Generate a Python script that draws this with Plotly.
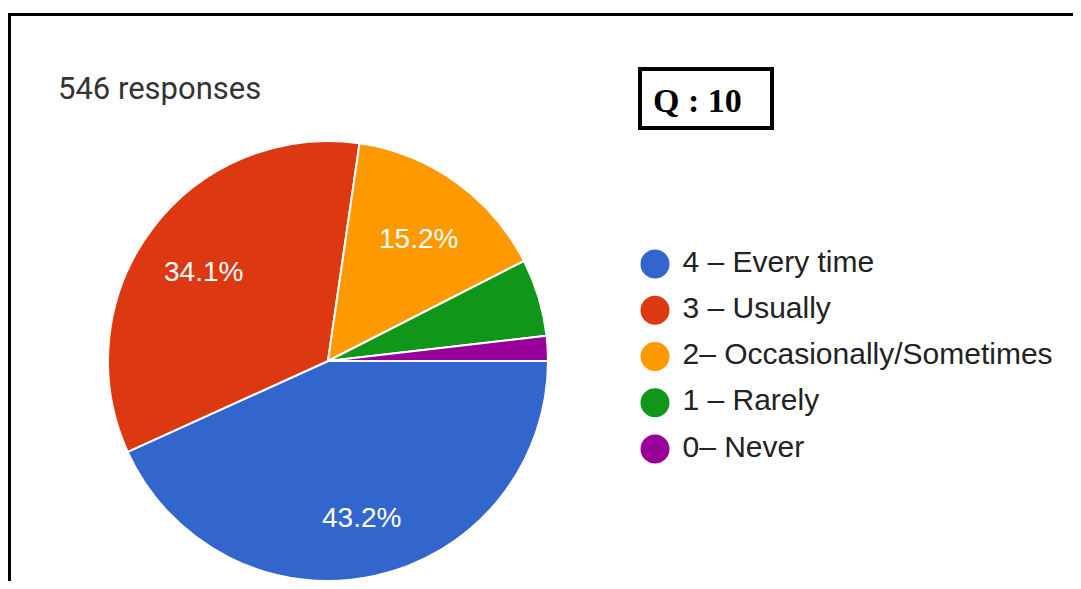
import numpy as np
import plotly.graph_objects as go

categories = ["4 – Every time", "3 – Usually", "2– Occasionally/Sometimes", "1 – Rarely", "0– Never"]
counts = [236, 186, 83, 31, 10]
colors = ["#3366CC", "#DC3912", "#FF9900", "#109618", "#990099"]
show_label = [True, True, True, False, False]
total_text = "546 responses"
question = "Q : 10"

# page is offset by the browser's 8px body margin; axis coordinates below are page pixels
OFF = 8
W, H = 1081 - OFF, 589 - 2 * OFF
PX0, PX1 = OFF, OFF + W
PY0, PY1 = OFF, OFF + H

CX, CY, R = 328, 361, 220

def px(x):
    return (x - PX0) / W

def py(y):
    return (PY1 - y) / H

fig = go.Figure()

fig.add_trace(go.Pie(
    labels=categories,
    values=counts,
    marker=dict(colors=colors, line=dict(color="white", width=2)),
    sort=False,
    direction="clockwise",
    rotation=90,
    textinfo="none",
    hoverinfo="label+percent",
    showlegend=False,
    domain=dict(x=[px(CX - R), px(CX + R)], y=[py(CY + R), py(CY - R)]),
))

# percentage labels at 0.7 of the radius on each slice's mid-angle (computed from the data)
vals = np.array(counts, dtype=float)
frac = vals / vals.sum()
mid = (np.cumsum(frac) - frac / 2) * 2 * np.pi  # clockwise from 3 o'clock
lab_r = 0.71 * R
label_annotations = [
    dict(x=CX + lab_r * np.cos(a), y=CY + lab_r * np.sin(a), xref="x", yref="y",
         text=f"{f * 100:.1f}%", showarrow=False, xanchor="center", yanchor="middle",
         yshift=-4,
         font=dict(size=28, color="white", family="Liberation Sans, Arial"))
    for a, f, s in zip(mid, frac, show_label) if s
]

# legend drawn as a scatter with circle markers
leg_x = [655] * len(categories)
leg_y = [264 + 46.25 * i for i in range(len(categories))]
fig.add_trace(go.Scatter(
    x=leg_x, y=leg_y,
    mode="markers+text",
    marker=dict(size=29, color=colors, line=dict(width=0)),
    text=[" " + c for c in categories],
    textposition="middle right",
    textfont=dict(size=30, color="#222222", family="Liberation Sans, Arial"),
    hoverinfo="skip",
    showlegend=False,
    cliponaxis=False,
))

fig.update_layout(
    width=W, height=H,
    margin=dict(l=0, r=0, t=0, b=0),
    paper_bgcolor="white",
    plot_bgcolor="rgba(0,0,0,0)",
    xaxis=dict(range=[PX0, PX1], visible=False, fixedrange=True),
    yaxis=dict(range=[PY1, PY0], visible=False, fixedrange=True),
    shapes=[
        dict(type="line", xref="x", yref="y", x0=8, x1=PX1, y0=14.5, y1=14.5,
             line=dict(color="black", width=3)),
        dict(type="line", xref="x", yref="y", x0=9.5, x1=9.5, y0=13, y1=PY1,
             line=dict(color="black", width=3)),
        dict(type="rect", xref="x", yref="y", x0=640, x1=772, y0=69, y1=128,
             line=dict(color="black", width=4), fillcolor="white"),
    ],
    annotations=label_annotations + [
        dict(x=56, y=88, xref="x", yref="y", text=total_text, showarrow=False,
             xanchor="left", yanchor="middle",
             font=dict(size=31, color="#333333", family="Roboto")),
        dict(x=697, y=100, xref="x", yref="y", text="<b>" + question + "</b>", showarrow=False,
             xanchor="center", yanchor="middle",
             font=dict(size=34, color="black", family="Liberation Serif, Times New Roman")),
    ],
)

fig.write_html("out.html")
